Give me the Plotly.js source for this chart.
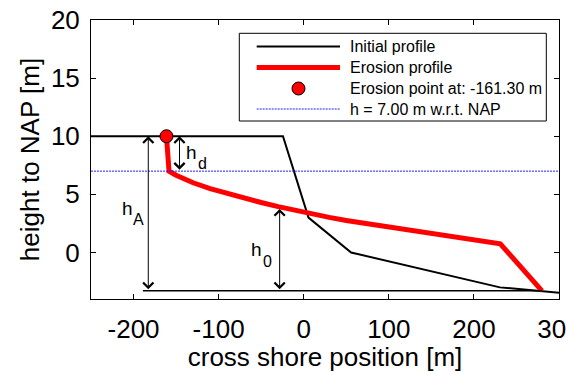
<!DOCTYPE html>
<html>
<head>
<meta charset="utf-8">
<script src="https://cdn.plot.ly/plotly-3.0.1.min.js"></script>
<style>html,body{margin:0;padding:0;background:#fff;}#chart{width:566px;height:372px;}</style>
</head>
<body>
<div id="chart"></div>
<script>
// Initial profile
var initX = [-250, -24.4, 5.6, 55.7, 230.6, 300];
var initY = [10, 10, 3, 0, -3, -3.46];
// Erosion profile
var eroX = [-161.3, -158.3, -150, -130, -110, -90, -70, -50, -30, -10, 10, 30, 50, 75, 100, 125, 150, 175, 200, 231, 280];
var eroY = [10, 7.0, 6.65, 6.0, 5.5, 5.07, 4.68, 4.3, 3.95, 3.62, 3.32, 3.02, 2.75, 2.47, 2.2, 1.9, 1.63, 1.37, 1.08, 0.75, -3.3];
// Erosion point
var pointX = [-161.3];
var pointY = [10];
// Water level
var levelX = [-250, 300];
var levelY = [7, 7];
// Reference base line
var baseX = [-189, 280];
var baseY = [-3.3, -3.3];
// Height arrows: [x, yBottom, yTop]
var hA = [-182.7, -3.3, 10];
var h0 = [-28.3, -3.3, 3.75];
var hd = [-146, 7, 10];
// Arrow labels: letter and subscript
var labelMain = ['h', 'h', 'h'];
var labelSub = ['A', '0', 'd'];
var mainX = [-207.6, -55.2, -131.6];
var mainY = [3.78, 0.30, 8.56];
var subX = [-194.7, -42.5, -119.5];
var subY = [2.84, -0.77, 7.66];
// Axis ticks
var xTickVals = [-200, -100, 0, 100, 200, 300];
var xTickText = ['-200', '-100', '0', '100', '200', '300'];
var yTickVals = [0, 5, 10, 15, 20];
var yTickText = ['0', '5', '10', '15', '20'];
var names = ['Initial profile', 'Erosion profile', 'Erosion point at: -161.30 m', 'h = 7.00 m w.r.t. NAP'];

var F = 'Liberation Sans, Arial, sans-serif';
var DOT = '2px,1px';
var BLUE = '#2020ff';
var traces = [
  {x: initX, y: initY, mode: 'lines', name: names[0], line: {color: 'black', width: 2}},
  {x: eroX, y: eroY, mode: 'lines', name: names[1], line: {color: 'red', width: 5}},
  {x: pointX, y: pointY, mode: 'markers', name: names[2], marker: {color: 'red', size: 13, line: {color: 'black', width: 1}}},
  {x: levelX, y: levelY, mode: 'lines', name: names[3], line: {color: BLUE, width: 1, dash: DOT}},
  {x: baseX, y: baseY, mode: 'lines', name: 'base', line: {color: 'black', width: 1.5}}
];

var anns = [];
[hA, h0, hd].forEach(function (a) {
  anns.push({x: a[0], y: a[2], ax: a[0], ay: a[1], xref: 'x', yref: 'y', axref: 'x', ayref: 'y',
    text: '', showarrow: true, arrowhead: 4, startarrowhead: 4, arrowside: 'end+start',
    arrowsize: 2, startarrowsize: 2, arrowwidth: 1, arrowcolor: 'black'});
});
for (var i = 0; i < labelMain.length; i++) {
  anns.push({x: mainX[i], y: mainY[i], xref: 'x', yref: 'y', text: labelMain[i], showarrow: false,
    font: {family: F, size: 19, color: 'black'}});
  anns.push({x: subX[i], y: subY[i], xref: 'x', yref: 'y', text: labelSub[i], showarrow: false,
    font: {family: F, size: 16, color: 'black'}});
}

// Legend drawn in pixel layout converted to paper coordinates
var ML = 91, MT = 20, PW = 468, PH = 279;
function px(v) { return (v - ML) / PW; }
function py(v) { return (MT + PH - v) / PH; }
var rows = [46.5, 67.5, 88.5, 109];
var shapes = [
  {type: 'rect', xref: 'paper', yref: 'paper', x0: px(239.3), x1: px(546.3), y0: py(121), y1: py(33.3),
    line: {color: 'black', width: 1}, fillcolor: 'white', layer: 'above'},
  {type: 'line', xref: 'paper', yref: 'paper', x0: px(256.7), x1: px(340), y0: py(rows[0]), y1: py(rows[0]),
    line: {color: 'black', width: 2}},
  {type: 'line', xref: 'paper', yref: 'paper', x0: px(256.7), x1: px(340), y0: py(rows[1]), y1: py(rows[1]),
    line: {color: 'red', width: 5}},
  {type: 'circle', xref: 'paper', yref: 'paper', x0: px(292), x1: px(305), y0: py(rows[2] + 6.5), y1: py(rows[2] - 6.5),
    line: {color: 'black', width: 1}, fillcolor: 'red'},
  {type: 'line', xref: 'paper', yref: 'paper', x0: px(256.7), x1: px(340), y0: py(rows[3]), y1: py(rows[3]),
    line: {color: BLUE, width: 1, dash: DOT}}
];
for (var j = 0; j < names.length; j++) {
  anns.push({xref: 'paper', yref: 'paper', x: px(348), y: py(rows[j]), xanchor: 'left', yanchor: 'middle',
    text: names[j], showarrow: false, font: {family: F, size: 16, color: 'black'}});
}

var layout = {
  width: 566, height: 372,
  margin: {l: ML, r: 566 - ML - PW, t: MT, b: 372 - MT - PH},
  paper_bgcolor: 'white', plot_bgcolor: 'white',
  font: {family: F, color: 'black'},
  showlegend: false,
  xaxis: {range: [-250, 300], tickvals: xTickVals, ticktext: xTickText, ticks: 'inside', ticklen: 5,
    mirror: 'ticks', showline: true, linecolor: 'black', linewidth: 1, tickcolor: 'black', showgrid: false,
    zeroline: false, tickfont: {family: F, size: 26}, ticklabelstandoff: 7, ticklabeloverflow: 'allow',
    title: {text: 'cross shore position [m]', font: {family: F, size: 26}, standoff: 11}},
  yaxis: {range: [-4, 20], tickvals: yTickVals, ticktext: yTickText, ticks: 'inside', ticklen: 5,
    mirror: 'ticks', showline: true, linecolor: 'black', linewidth: 1, tickcolor: 'black', showgrid: false,
    zeroline: false, tickfont: {family: F, size: 26}, ticklabelstandoff: 5, ticklabeloverflow: 'allow',
    title: {text: 'height to NAP [m]', font: {family: F, size: 26}, standoff: 3}},
  shapes: shapes,
  annotations: anns
};

Plotly.newPlot('chart', traces, layout, {displayModeBar: false, staticPlot: true});
</script>
</body>
</html>
